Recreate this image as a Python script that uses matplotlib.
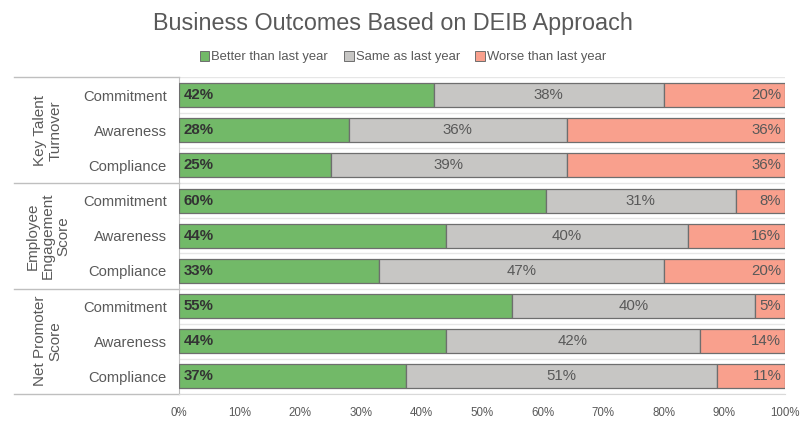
import matplotlib
matplotlib.use("Agg")
import matplotlib.pyplot as plt
from matplotlib.patches import Patch
from matplotlib.lines import Line2D
import numpy as np

plt.rcParams['font.family'] = ['Liberation Sans', 'DejaVu Sans']

groups = ["Key Talent\nTurnover", "Employee\nEngagement\nScore", "Net Promoter\nScore"]
categories = ["Commitment", "Awareness", "Compliance"] * 3
better = [42, 28, 25, 60.5, 44, 33, 55, 44, 37.4]
same = [38, 36, 39, 31.4, 40, 47, 40, 42, 51.4]
worse = [20, 36, 36, 8.1, 16, 20, 5, 14, 11.2]
series_names = ["Better than last year", "Same as last year", "Worse than last year"]
colors = ["#72B968", "#C7C6C4", "#F9A08D"]
xticks = list(range(0, 101, 10))

fig = plt.figure(figsize=(8.11, 4.34), dpi=100)
ax = fig.add_axes([179/811, 1-394/434, 606/811, (394-77.5)/434])

y = np.arange(len(categories))
edge = "#6E6E6E"
h = 0.68
ax.barh(y, better, height=h, color=colors[0], edgecolor=edge, linewidth=0.9, zorder=3)
ax.barh(y, same, left=better, height=h, color=colors[1], edgecolor=edge, linewidth=0.9, zorder=3)
left3 = [a + b for a, b in zip(better, same)]
ax.barh(y, worse, left=left3, height=h, color=colors[2], edgecolor=edge, linewidth=0.9, zorder=3)

txtc = "#595959"
fs = 10.8
for i in range(len(y)):
    ax.text(0.8, y[i], f"{better[i]:.0f}%", ha="left", va="center", fontsize=fs,
            fontweight="bold", color="#333333", zorder=4)
    ax.text(better[i] + same[i] / 2, y[i], f"{same[i]:.0f}%", ha="center", va="center",
            fontsize=fs, color=txtc, zorder=4)
    ax.text(left3[i] + worse[i] - 0.6, y[i], f"{worse[i]:.0f}%", ha="right", va="center",
            fontsize=fs, color=txtc, zorder=4)

ax.set_xlim(0, 100)
ax.set_ylim(len(categories) - 0.5, -0.5)
ax.set_xticks(xticks)
ax.set_xticklabels([f"{t}%" for t in xticks], fontsize=8.3, color=txtc)
ax.set_yticks(y)
ax.set_yticklabels(categories, fontsize=10.6, color=txtc)
ax.tick_params(axis="y", length=0, pad=9)
ax.tick_params(axis="x", length=0, pad=9)

for b in np.arange(-0.5, len(categories), 1.0):
    ax.axhline(b, color="#E6E6E6", linewidth=1.0, zorder=1)

for s in ["top", "right"]:
    ax.spines[s].set_visible(False)
ax.spines["bottom"].set_color("#D9D9D9")
ax.spines["left"].set_color("#BFBFBF")

# group separators and labels
x0 = (14 - 179) / 606
for gb in [-0.5, 2.5, 5.5, 8.5]:
    ax.add_line(Line2D([x0, 0], [gb, gb], transform=ax.get_yaxis_transform(),
                       color="#BFBFBF", linewidth=1.0, clip_on=False))
gx = (48 - 179) / 606
for gi, g in enumerate(groups):
    ax.text(gx, gi * 3 + 1, g, transform=ax.get_yaxis_transform(), rotation=90,
            ha="center", va="center", fontsize=11, color=txtc, linespacing=1.15)

fig.text(0.484, 0.945, "Business Outcomes Based on DEIB Approach", ha="center", va="center",
         fontsize=16.8, color="#595959")

handles = [Patch(facecolor=c, edgecolor=edge, linewidth=0.7) for c in colors]
fig.legend(handles, series_names, loc="center", bbox_to_anchor=(0.497, 0.868), ncol=3,
           frameon=False, fontsize=9.4, handlelength=0.75, handleheight=0.75,
           handletextpad=0.15, columnspacing=1.2, labelcolor=txtc)

fig.savefig("out.png", dpi=100)
